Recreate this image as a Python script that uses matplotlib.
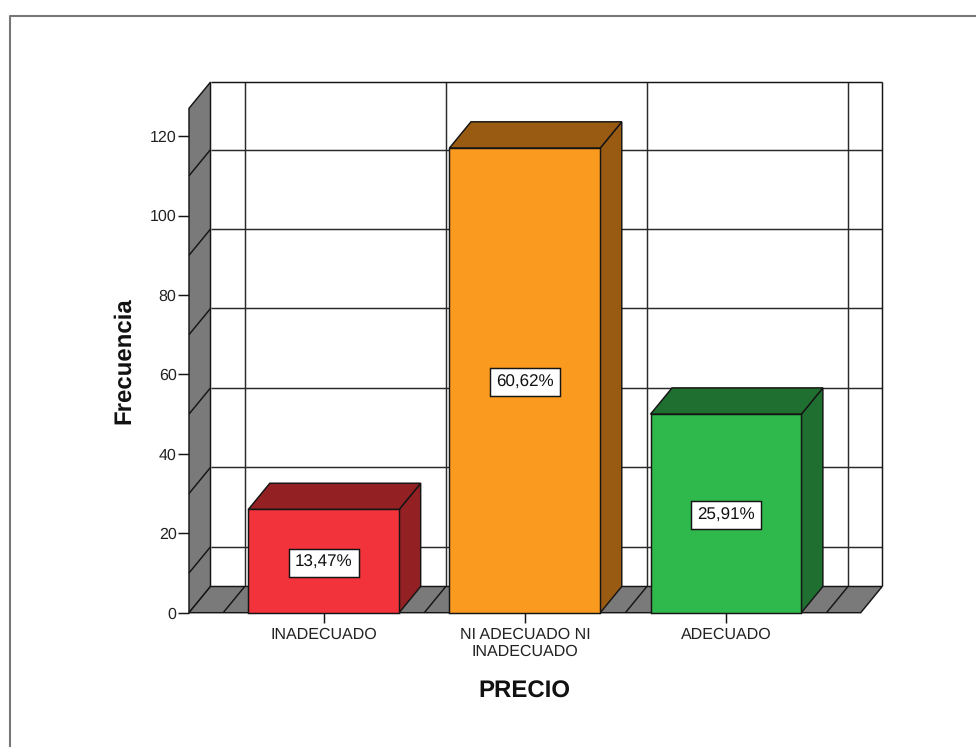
# Grafico de barras 3D de frecuencia por nivel de PRECIO
import matplotlib
matplotlib.use('Agg')
import matplotlib.pyplot as plt
from matplotlib.patches import Polygon
from matplotlib.lines import Line2D

plt.rcParams['font.family'] = ['Liberation Sans', 'DejaVu Sans']
plt.rcParams['text.hinting'] = 'no_hinting'
plt.rcParams['text.hinting_factor'] = 1

categorias = ['INADECUADO', 'NI ADECUADO NI\nINADECUADO', 'ADECUADO']
frecuencias = [26, 117, 50]
porcentajes = ['13,47%', '60,62%', '25,91%']
yticks = [0, 20, 40, 60, 80, 100, 120]
# las lineas de la pared caen entre las marcas del eje
rejilla = [10, 30, 50, 70, 90, 110]

color_frente = ['#F2333B', '#FA9A1E', '#2FB84B']
color_lado = ['#932023', '#995A12', '#1F7030']
gris = '#7A7A7A'
linea = '#151515'
lw = 1.05

W, H = 976, 747
fig = plt.figure(figsize=(W / 100, H / 100), dpi=100, facecolor='white')

# recuadro exterior, solo lados izquierdo y superior
fig.add_artist(Line2D([10 / W, 10 / W, 1], [0, 1 - 15.5 / H, 1 - 15.5 / H], color='#777777', lw=1.5))

ax = fig.add_axes([189 / W, (H - 612.7) / H, 671.7 / W, 504.4 / H])
xmin, xmax = -0.67, 2.67
ymax = 127
ax.set_xlim(xmin, xmax)
ax.set_ylim(0, ymax)
for s in ax.spines.values():
    s.set_visible(False)

# profundidad del efecto 3D en unidades de datos
dx, dy = 0.107, 6.6
ancho = 0.75


def poli(puntos, color, z):
    ax.add_patch(Polygon(puntos, closed=True, facecolor=color, edgecolor=linea, lw=lw, zorder=z, clip_on=False))


def seg(xs, ys, z=1, color=linea):
    ax.plot(xs, ys, color=color, lw=lw, zorder=z, clip_on=False, solid_capstyle='butt')


# pared del fondo
for v in rejilla:
    seg([xmin + dx, xmax + dx], [v + dy, v + dy], color='#2A2A2A')
for b in [-0.5, 0.5, 1.5, 2.5]:
    seg([b + dx, b + dx], [dy, ymax + dy], color='#2A2A2A')
seg([xmin + dx, xmax + dx], [ymax + dy, ymax + dy])
seg([xmax + dx, xmax + dx], [dy, ymax + dy])

# pared izquierda y piso
poli([(xmin, 0), (xmin + dx, dy), (xmin + dx, ymax + dy), (xmin, ymax)], gris, 2)
for v in rejilla:
    seg([xmin, xmin + dx], [v, v + dy], z=3)
poli([(xmin, 0), (xmax, 0), (xmax + dx, dy), (xmin + dx, dy)], gris, 2)
for b in [-0.5, 0.5, 1.5, 2.5]:
    seg([b, b + dx], [0, dy], z=3)

# barras
for i, f in enumerate(frecuencias):
    x0, x1 = i - ancho / 2, i + ancho / 2
    poli([(x1, 0), (x1 + dx, dy), (x1 + dx, f + dy), (x1, f)], color_lado[i], 4)
    poli([(x0, f), (x1, f), (x1 + dx, f + dy), (x0 + dx, f + dy)], color_lado[i], 4)
    ax.bar(i, f, width=ancho, color=color_frente[i], edgecolor=linea, lw=lw, zorder=5, clip_on=False)
    ax.text(i, f / 2, porcentajes[i], ha='center', va='center_baseline', fontsize=12.2, color='#111111', zorder=6,
            bbox=dict(boxstyle='square,pad=0.36', facecolor='white', edgecolor=linea, lw=lw))

ax.set_xticks(range(3))
ax.set_xticklabels(categorias, fontsize=11.4, linespacing=1.22, color='#222222')
ax.set_yticks(yticks)
ax.tick_params(axis='x', length=7.2, width=lw, color=linea, pad=3)
ax.tick_params(axis='y', length=8, width=lw, color=linea, pad=1, labelsize=11.5, labelcolor='#222222')

ax.set_xlabel('PRECIO', fontsize=17, fontweight='bold', labelpad=15, color='#111111')
ax.set_ylabel('Frecuencia', fontsize=17.2, fontweight='bold', labelpad=10.5, color='#111111')

fig.savefig('out.png', dpi=100)
